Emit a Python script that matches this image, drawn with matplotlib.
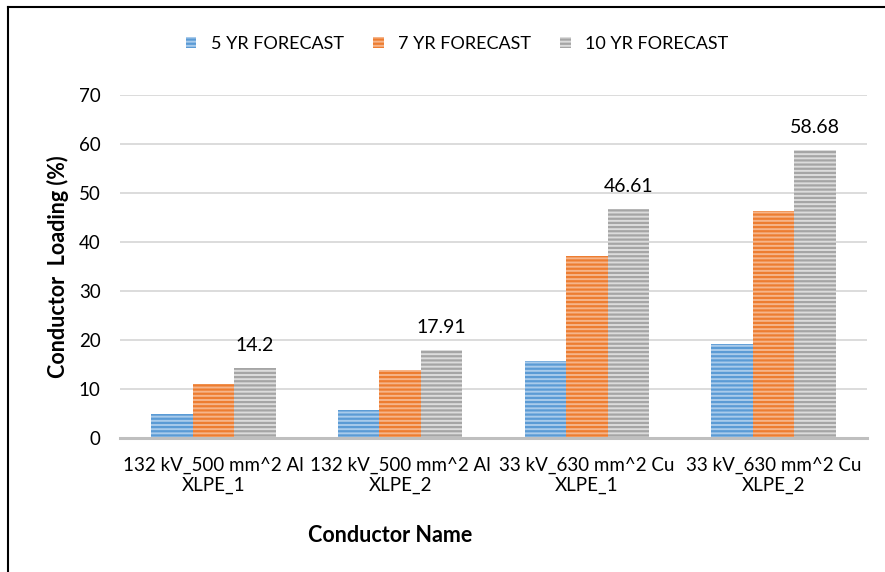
import matplotlib
matplotlib.use("Agg")
import matplotlib.pyplot as plt
import numpy as np
from matplotlib.patches import Patch
from matplotlib.lines import Line2D

plt.rcParams['font.family'] = ['Lato', 'DejaVu Sans']
plt.rcParams['hatch.linewidth'] = 1.6

categories = ["132 kV_500 mm^2 Al\nXLPE_1", "132 kV_500 mm^2 Al\nXLPE_2",
              "33 kV_630 mm^2 Cu\nXLPE_1", "33 kV_630 mm^2 Cu\nXLPE_2"]
series_names = ["5 YR FORECAST", "7 YR FORECAST", "10 YR FORECAST"]
yr5 = [4.9, 5.7, 15.7, 19.2]
yr7 = [11.0, 13.9, 37.1, 46.2]
yr10 = [14.2, 17.91, 46.61, 58.68]
yticks = [0, 10, 20, 30, 40, 50, 60, 70]

base_colors = ["#5B9BD5", "#ED7D31", "#A5A5A5"]
light_colors = ["#A9CBEB", "#F6B58A", "#DCDCDC"]

fig = plt.figure(figsize=(8.85, 5.72), dpi=100)
ax = fig.add_axes([120/885, 1 - 437.7/572, 747/885, (437.7-94.7)/572])

x = np.arange(len(categories))
width = 0.222
series = [yr5, yr7, yr10]
for i, vals in enumerate(series):
    ax.bar(x + (i - 1) * width, vals, width, facecolor=light_colors[i],
           edgecolor=base_colors[i], hatch='----', linewidth=0, zorder=3)

for xi, v in zip(x + width, yr10):
    ax.annotate(f"{v:g}", (xi, v), xytext=(0, 10), textcoords='offset points',
                ha='center', va='bottom', fontsize=14, color='#000000')

ax.set_xlim(-0.5, len(categories) - 0.5)
ax.set_ylim(0, 70)
ax.set_yticks(yticks)
ax.grid(axis='y', color='#D9D9D9', linewidth=1.3, zorder=0)
ax.set_axisbelow(True)
for s in ['top', 'right', 'left']:
    ax.spines[s].set_visible(False)
ax.spines['bottom'].set_color('#BFBFBF')
ax.spines['bottom'].set_linewidth(2.2)
ax.spines['bottom'].set_zorder(4)
ax.tick_params(axis='both', length=0, labelsize=13.5, colors='#000000')
ax.tick_params(axis='y', pad=14)
ax.tick_params(axis='x', pad=14)
ax.set_xticks(x)
ax.set_xticklabels(categories, linespacing=1.2)

fig.text(58/885, 1 - 267/572, "Conductor  Loading (%)", rotation=90,
         ha='center', va='center', fontsize=15.5, fontweight='bold')
fig.text(390/885, 1 - 535/572, "Conductor Name", ha='center', va='center',
         fontsize=15.5, fontweight='bold')

handles = [Patch(facecolor=light_colors[i], edgecolor=base_colors[i], hatch='----',
                 linewidth=0) for i in range(3)]
fig.legend(handles, series_names, loc='center', bbox_to_anchor=(457/885, 1 - 44/572),
           ncol=3, frameon=False, fontsize=13, handlelength=0.6, handleheight=0.6,
           handletextpad=0.8, columnspacing=1.6)

# frame lines along the top and left edges
fig.add_artist(Line2D([8/885, 1], [1 - 7/572, 1 - 7/572], transform=fig.transFigure,
                      color='#000000', linewidth=1.5))
fig.add_artist(Line2D([8/885, 8/885], [0, 1 - 7/572], transform=fig.transFigure,
                      color='#000000', linewidth=1.5))

fig.savefig("out.png", dpi=100)
